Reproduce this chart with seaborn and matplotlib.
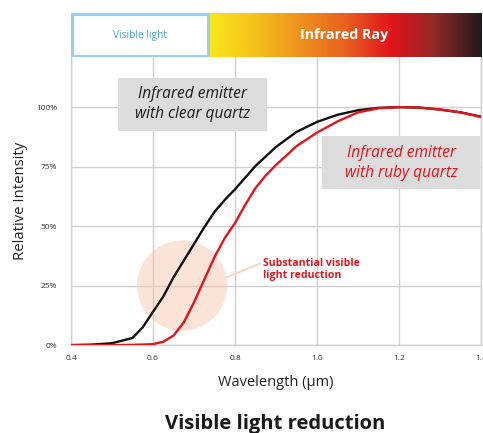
import numpy as np
import pandas as pd
import seaborn as sns
import matplotlib.pyplot as plt
from matplotlib.patches import Rectangle, Ellipse
from matplotlib.colors import LinearSegmentedColormap

# wavelength (um) and relative intensity
wl_clear = [0.40, 0.45, 0.50, 0.55, 0.575, 0.60, 0.625, 0.65, 0.675, 0.70, 0.725, 0.75,
            0.775, 0.80, 0.85, 0.90, 0.95, 1.00, 1.05, 1.10, 1.15, 1.20, 1.25, 1.30,
            1.35, 1.40]
clear_quartz = [0.0, 0.002, 0.008, 0.03, 0.075, 0.14, 0.204, 0.285, 0.355, 0.425, 0.495, 0.56,
                0.61, 0.655, 0.753, 0.833, 0.896, 0.938, 0.968, 0.987, 0.997, 1.0, 0.998, 0.99,
                0.978, 0.96]
wl_ruby = [0.40, 0.50, 0.55, 0.60, 0.625, 0.65, 0.675, 0.70, 0.725, 0.75, 0.775, 0.80,
           0.825, 0.85, 0.875, 0.90, 0.95, 1.00, 1.05, 1.10, 1.15, 1.20, 1.25, 1.30,
           1.35, 1.40]
ruby_quartz = [0.0, 0.0, 0.001, 0.004, 0.014, 0.04, 0.095, 0.18, 0.275, 0.37, 0.45, 0.513,
               0.59, 0.66, 0.713, 0.757, 0.836, 0.893, 0.94, 0.978, 0.995, 1.0, 0.998, 0.99,
               0.978, 0.958]
x_ticks = [0.4, 0.6, 0.8, 1.0, 1.2, 1.4]
y_ticks = [0, 0.25, 0.5, 0.75, 1.0]
y_tick_labels = ["0%", "25%", "50%", "75%", "100%"]

df = pd.DataFrame({
    "wavelength": wl_clear + wl_ruby,
    "intensity": clear_quartz + ruby_quartz,
    "emitter": ["clear"] * len(wl_clear) + ["ruby"] * len(wl_ruby),
})

sns.set_theme(style="whitegrid")
plt.rcParams['font.family'] = ['Open Sans', 'DejaVu Sans']

RED = "#e3141b"
GRID = "#cfcfcf"

fig = plt.figure(figsize=(4.83, 4.33), dpi=100)
ax = fig.add_axes([0.147, 0.203, 0.849, 0.665])

sns.lineplot(data=df, x="wavelength", y="intensity", hue="emitter",
             palette={"clear": "#111111", "ruby": RED}, linewidth=1.7,
             legend=False, ax=ax, zorder=5)

ax.set_xlim(0.4, 1.4)
ax.set_ylim(0, 1.21)
ax.set_xticks(x_ticks)
ax.set_xticklabels([f"{v:.1f}" for v in x_ticks], fontsize=6, color="#333333")
ax.set_yticks(y_ticks)
ax.set_yticklabels(y_tick_labels, fontsize=6, color="#333333")
ax.tick_params(axis="both", length=0)
ax.tick_params(axis="y", pad=10)
ax.tick_params(axis="x", pad=7)
ax.grid(True, color=GRID, linewidth=1)
for side in ["left", "bottom", "right"]:
    ax.spines[side].set_color(GRID)
    ax.spines[side].set_linewidth(1)
ax.spines["top"].set_visible(False)

ax.set_xlabel("Wavelength (µm)", fontsize=10.5, color="#222222")
ax.set_ylabel("Relative Intensity", fontsize=10.7, color="#222222")
ax.xaxis.set_label_coords(0.5, -0.105)
ax.yaxis.set_label_coords(-0.105, 0.5)

# highlight of the visible-light reduction
ax.add_patch(Ellipse((0.671, 0.25), 0.2195, 0.38, facecolor="#f7c3a8",
                     alpha=0.45, edgecolor="none", zorder=3))
ax.plot([0.780, 0.861], [0.285, 0.343], color="#f9d5c2", linewidth=1.5, zorder=3)
ax.text(0.868, 0.318, "Substantial visible\nlight reduction", color=RED,
        fontsize=7.6, fontweight="bold", ha="left", va="center", linespacing=1.1)

# label boxes
ax.add_patch(Rectangle((0.515, 0.9), 0.363, 0.222, facecolor="#dcdcdc",
                       edgecolor="none", zorder=4))
ax.text(0.697, 1.012, "Infrared emitter\nwith clear quartz", color="#1a1a1a",
        fontsize=11.2, style="italic", ha="center", va="center", zorder=6, linespacing=1.3)
ax.add_patch(Rectangle((1.012, 0.655), 0.386, 0.225, facecolor="#dcdcdc",
                       edgecolor="none", zorder=4))
ax.text(1.205, 0.766, "Infrared emitter\nwith ruby quartz", color=RED,
        fontsize=11.2, style="italic", ha="center", va="center", zorder=6, linespacing=1.3)

# spectrum band on top
band = fig.add_axes([0.147, 0.868, 0.849, 0.102])
band.set_xlim(0.4, 1.4)
band.set_ylim(0, 1)
band.axis("off")
spectrum = LinearSegmentedColormap.from_list(
    "ir", ["#fbe81a", "#f5c21a", "#ee921e", "#e8621f", "#e3141b", "#8e2a28", "#231a1c"])
band.imshow(np.linspace(0, 1, 256)[None, :], cmap=spectrum, aspect="auto",
            extent=[0.733, 1.4, 0, 1])
band.add_patch(Rectangle((0.403, 0.03), 0.33, 0.94, facecolor="white",
                         edgecolor="#8fd3f0", linewidth=2.2))
band.text(0.568, 0.5, "Visible light", color="#4aa6d8", fontsize=7.3,
          ha="center", va="center")
band.text(1.066, 0.5, "Infrared Ray", color="white", fontsize=10.3,
          fontweight="bold", ha="center", va="center")

fig.text(0.569, 0.01, "Visible light reduction", fontsize=14.5, fontweight="bold",
         color="#1a1a1a", ha="center", va="baseline")

fig.savefig("out.png", dpi=100)
